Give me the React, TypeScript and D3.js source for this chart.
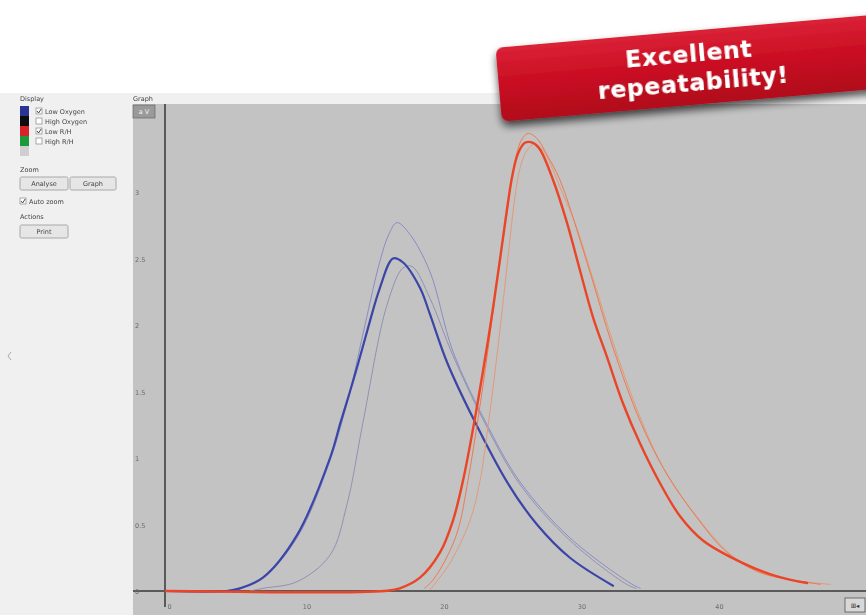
import React from 'react';
import * as d3 from 'd3';

// pressure-curve readings, [time, value]
const lowOxygenRun1: [number, number][] = [
  [-0.4, 0], [4, 0], [4.98, 0.02], [6.65, 0.1], [9.13, 0.42], [11.53, 1.0], [12.3, 1.27], [12.98, 1.5],
  [13.6, 1.72], [14.3, 1.98], [15.16, 2.28], [16.11, 2.5], [16.84, 2.47], [18.07, 2.28], [18.8, 2.08],
  [20.04, 1.72], [21.93, 1.3], [24.4, 0.82], [26.58, 0.5], [28.98, 0.25], [32.11, 0.04]
];
const lowOxygenRun2: [number, number][] = [
  [4.6, 0], [6.65, 0.1], [9.13, 0.4], [11.53, 0.98], [12.98, 1.5], [14.07, 2.0], [15.16, 2.48],
  [15.8, 2.68], [16.4, 2.77], [17.35, 2.68], [18.8, 2.4], [20.47, 1.8], [22.95, 1.25], [25.35, 0.82],
  [28.98, 0.4], [33.35, 0.06], [34.1, 0.02]
];
const lowOxygenRun3: [number, number][] = [
  [5.7, 0], [6.65, 0.02], [9.13, 0.07], [11.53, 0.27], [12.76, 0.65], [13.93, 1.27], [15.67, 2.15],
  [16.84, 2.43], [17.5, 2.44], [18.8, 2.2], [20.47, 1.77], [22.95, 1.23], [25.35, 0.8],
  [28.98, 0.38], [33.1, 0.05], [33.8, 0.02]
];
const lowRhRun1: [number, number][] = [
  [-0.4, 0], [15.5, 0], [16.6, 0.02], [18.07, 0.1], [19.53, 0.29], [20.47, 0.53], [21.2, 0.83],
  [21.93, 1.22], [22.6, 1.62], [23.3, 2.07], [23.9, 2.5], [24.4, 2.87], [24.8, 3.13], [25.2, 3.29],
  [25.7, 3.37], [26.29, 3.37], [26.8, 3.32], [27.75, 3.09], [28.76, 2.77], [29.71, 2.41],
  [30.65, 2.06], [31.67, 1.76], [32.84, 1.41], [34.07, 1.11], [35.53, 0.81], [37.0, 0.56],
  [38.65, 0.38], [41.56, 0.21], [44.04, 0.11], [46.22, 0.06]
];
const lowRhRun2: [number, number][] = [
  [18.4, 0.02], [19.0, 0.08], [20.0, 0.25], [20.84, 0.46], [21.56, 0.83], [22.3, 1.3], [23.0, 1.8],
  [23.7, 2.35], [24.4, 2.85], [25.0, 3.24], [25.5, 3.4], [25.95, 3.44], [26.6, 3.4], [27.3, 3.28],
  [28.25, 3.09], [30.22, 2.47], [32.11, 1.83], [34.07, 1.28], [35.8, 0.92], [37.93, 0.59],
  [40.4, 0.29], [42.8, 0.14], [47.2, 0.05]
];
const lowRhRun3: [number, number][] = [
  [18.8, 0.01], [20.25, 0.21], [21.71, 0.53], [22.44, 0.83], [23.1, 1.3], [23.67, 1.77], [24.2, 2.25],
  [24.62, 2.65], [25.0, 2.98], [25.4, 3.2], [25.9, 3.32], [26.4, 3.36], [27.0, 3.32], [27.6, 3.2],
  [28.4, 3.0], [29.3, 2.78], [30.65, 2.35], [32.5, 1.75], [34.3, 1.25], [36.0, 0.88], [38.2, 0.56],
  [40.6, 0.28], [43.0, 0.13], [47.9, 0.05]
];

const xTicks = [0, 10, 20, 30, 40];
const yTicks = [0, 0.5, 1, 1.5, 2, 2.5, 3];

const displayItems = ['Low Oxygen', 'High Oxygen', 'Low R/H', 'High R/H'];
const displayChecked = [true, false, true, false];
const swatchColors = ['#2a3593', '#0a0a0a', '#d8232a', '#1f9a3a', '#cfcfcf'];

const W = 866;
const H = 615;

const x = d3.scaleLinear().domain([0, 40]).range([171.5, 721.5]);
const y = d3.scaleLinear().domain([0, 3]).range([591, 192]);

const line = d3.line<[number, number]>()
  .x(d => x(d[0]))
  .y(d => y(d[1]))
  .curve(d3.curveCatmullRom.alpha(0.5));

const series = [
  { data: lowOxygenRun2, color: '#8a8cc4', width: 1 },
  { data: lowOxygenRun3, color: '#8f92b4', width: 1 },
  { data: lowOxygenRun1, color: '#3b45a8', width: 2.2 },
  { data: lowRhRun3, color: '#e39a78', width: 1 },
  { data: lowRhRun2, color: '#ec7a52', width: 1 },
  { data: lowRhRun1, color: '#ea4526', width: 2.4 },
];

const small = { fontFamily: 'DejaVu Sans, sans-serif', fontSize: 6.5, fill: '#444' };

function Button({ x0, y0, w, label }: { x0: number; y0: number; w: number; label: string }) {
  return (
    <g>
      <rect x={x0} y={y0} width={w} height={13} fill="#e6e6e6" stroke="#a8a8a8" rx={1.5} />
      <text x={x0 + w / 2} y={y0 + 9} textAnchor="middle" {...small}>{label}</text>
    </g>
  );
}

function Checkbox({ x0, y0, checked }: { x0: number; y0: number; checked: boolean }) {
  return (
    <g>
      <rect x={x0} y={y0} width={6} height={6} fill="#fff" stroke="#888" strokeWidth={0.7} />
      {checked && <path d={`M${x0 + 1},${y0 + 3}L${x0 + 2.6},${y0 + 5}L${x0 + 5.2},${y0 + 1}`} stroke="#333" fill="none" strokeWidth={0.9} />}
    </g>
  );
}

export default function App() {
  return (
    <svg width={W} height={H} style={{ position: 'absolute', left: 0, top: 0 }}>
      <defs>
        <linearGradient id="banner" x1="0" y1="0" x2="0" y2="1">
          <stop offset="0" stopColor="#da2236" />
          <stop offset="0.5" stopColor="#c90d22" />
          <stop offset="1" stopColor="#b00a1c" />
        </linearGradient>
        <filter id="shadow" x="-10%" y="-30%" width="130%" height="180%">
          <feGaussianBlur in="SourceAlpha" stdDeviation="4" />
          <feOffset dx="0" dy="5" result="b" />
          <feComponentTransfer><feFuncA type="linear" slope="0.7" /></feComponentTransfer>
          <feMerge><feMergeNode /><feMergeNode in="SourceGraphic" /></feMerge>
        </filter>
        <filter id="blur"><feGaussianBlur stdDeviation="0.35" /></filter>
      </defs>

      <rect x={0} y={0} width={W} height={H} fill="#ffffff" />
      {/* application window */}
      <rect x={0} y={93} width={W} height={H - 93} fill="#f0f0f0" />

      {/* left control panel */}
      <g filter="url(#blur)">
        <text x={20} y={101} {...small}>Display</text>
        {swatchColors.map((c, i) => (
          <rect key={c} x={20} y={106 + i * 10} width={9} height={10} fill={c} />
        ))}
        {displayItems.map((d, i) => (
          <g key={d}>
            <Checkbox x0={36} y0={108 + i * 10} checked={displayChecked[i]} />
            <text x={45} y={114 + i * 10} {...small}>{d}</text>
          </g>
        ))}
        <text x={20} y={172} {...small}>Zoom</text>
        <Button x0={20} y0={177} w={48} label="Analyse" />
        <Button x0={70} y0={177} w={46} label="Graph" />
        <Checkbox x0={20} y0={198} checked={true} />
        <text x={29} y={204} {...small}>Auto zoom</text>
        <text x={20} y={219} {...small}>Actions</text>
        <Button x0={20} y0={225} w={48} label="Print" />
        <path d="M11,352L8,356L11,360" stroke="#aaa" fill="none" strokeWidth={1} />
      </g>

      {/* graph area */}
      <text x={133} y={101} {...small} filter="url(#blur)">Graph</text>
      <rect x={133} y={104} width={W - 133} height={H - 104} fill="#c3c3c3" />
      <rect x={133} y={105} width={22} height={13} fill="#9a9a9a" stroke="#666" strokeWidth={0.7} />
      <text x={144} y={114} textAnchor="middle" {...small} fill="#f4f4f4">a V</text>

      <line x1={133} x2={W} y1={y(0)} y2={y(0)} stroke="#5a5a5a" strokeWidth={2} />
      <line x1={165} x2={165} y1={104} y2={607} stroke="#5a5a5a" strokeWidth={2} />

      <g filter="url(#blur)">
        {yTicks.map(t => (
          <text key={t} x={135} y={y(t) + 3} {...small} fill="#6a6a6a">{String(t)}</text>
        ))}
        {xTicks.map(t => (
          <text key={t} x={x(t) - 2} y={609} textAnchor="middle" {...small} fill="#6a6a6a">{String(t)}</text>
        ))}
      </g>

      <g fill="none" strokeLinejoin="round" strokeLinecap="round">
        {series.map((s, i) => (
          <path key={i} d={line(s.data) || ''} stroke={s.color} strokeWidth={s.width} />
        ))}
      </g>

      <rect x={845} y={598} width={20} height={14} fill="#d8d8d8" stroke="#555" strokeWidth={0.8} />
      <text x={855} y={608} textAnchor="middle" {...small} fill="#333">⊞◂</text>

      {/* banner */}
      <g transform="translate(690,68) rotate(-5)" filter="url(#shadow)">
        <rect x={-192} y={-37} width={420} height={74} rx={7} fill="url(#banner)" />
        <text x={0} y={-6} textAnchor="middle" fill="#fff" fontFamily="DejaVu Sans, Verdana, sans-serif"
          fontWeight="bold" fontSize={23.5} letterSpacing={0.7}>Excellent</text>
        <text x={2} y={23} textAnchor="middle" fill="#fff" fontFamily="DejaVu Sans, Verdana, sans-serif"
          fontWeight="bold" fontSize={23.5} letterSpacing={0.7}>repeatability!</text>
      </g>
    </svg>
  );
}
